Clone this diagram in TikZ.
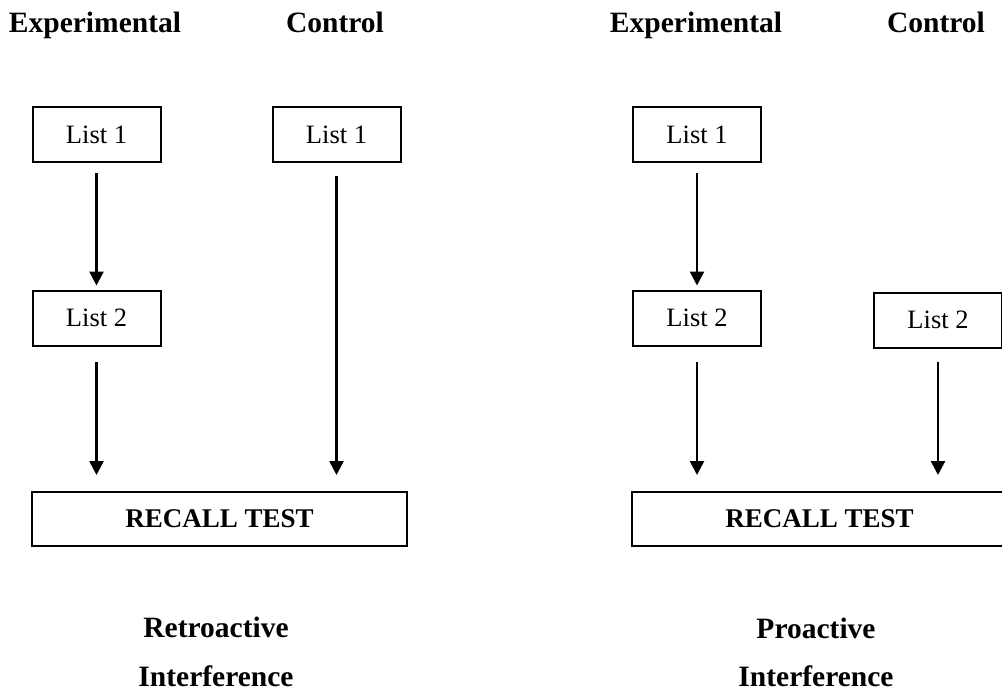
\documentclass[tikz,border=0pt]{standalone}
\usepackage{fontspec}
\setmainfont{Liberation Serif}
\usetikzlibrary{arrows.meta}
\begin{document}
\begin{tikzpicture}[x=1pt,y=-1pt,
  head/.style={font=\fontsize{29.5}{31}\selectfont\bfseries, anchor=base, inner sep=0},
  listbox/.style={draw, line width=2pt, minimum width=128pt, minimum height=55pt, inner sep=0,
                  font=\fontsize{26.5}{28}\selectfont},
  recallbox/.style={draw, line width=2pt, minimum width=375pt, minimum height=54pt, inner sep=0,
                  font=\fontsize{27}{29}\selectfont\bfseries},
  flow/.style={line width=2.6pt, -{Triangle[length=14pt,width=14pt]}}
]
\useasboundingbox (0,0) rectangle (1002,691);
\clip (0,0) rectangle (1002,691);

% ---- Retroactive interference ----
\node[head] (hE1) at (95,32) {Experimental};
\node[head] (hC1) at (335,32) {Control};
\node[listbox] (e1a) at (96.5,134.5) {List 1};
\node[listbox] (c1a) at (336.5,134.5) {List 1};
\node[listbox] (e1b) at (96.5,318) {List 2};
\node[recallbox] (rt1) at (219.5,519) {RECALL TEST};
\draw[flow, shorten <=10pt, shorten >=4pt] (e1a.south) -- (e1b.north);
\draw[flow, shorten <=15pt, shorten >=16pt] (e1b.south) -- (e1b.south |- rt1.north);
\draw[flow, shorten <=13pt, shorten >=16pt] (c1a.south) -- (c1a.south |- rt1.north);
\node[head] (r1) at (216,637) {Retroactive};
\node[head] (r2) at (216,686) {Interference};

% ---- Proactive interference ----
\node[head] (hE2) at (696,32) {Experimental};
\node[head] (hC2) at (936,32) {Control};
\node[listbox] (e2a) at (697,134.5) {List 1};
\node[listbox] (e2b) at (697,318) {List 2};
\node[listbox] (c2b) at (938,320) {List 2};
\node[recallbox] (rt2) at (819.5,519) {RECALL TEST};
\draw[flow, shorten <=10pt, shorten >=4pt] (e2a.south) -- (e2b.north);
\draw[flow, shorten <=15pt, shorten >=16pt] (e2b.south) -- (e2b.south |- rt2.north);
\draw[flow, shorten <=13pt, shorten >=16pt] (c2b.south) -- (c2b.south |- rt2.north);
\node[head] (p1) at (816,638) {Proactive};
\node[head] (p2) at (816,686) {Interference};
\end{tikzpicture}
\end{document}
